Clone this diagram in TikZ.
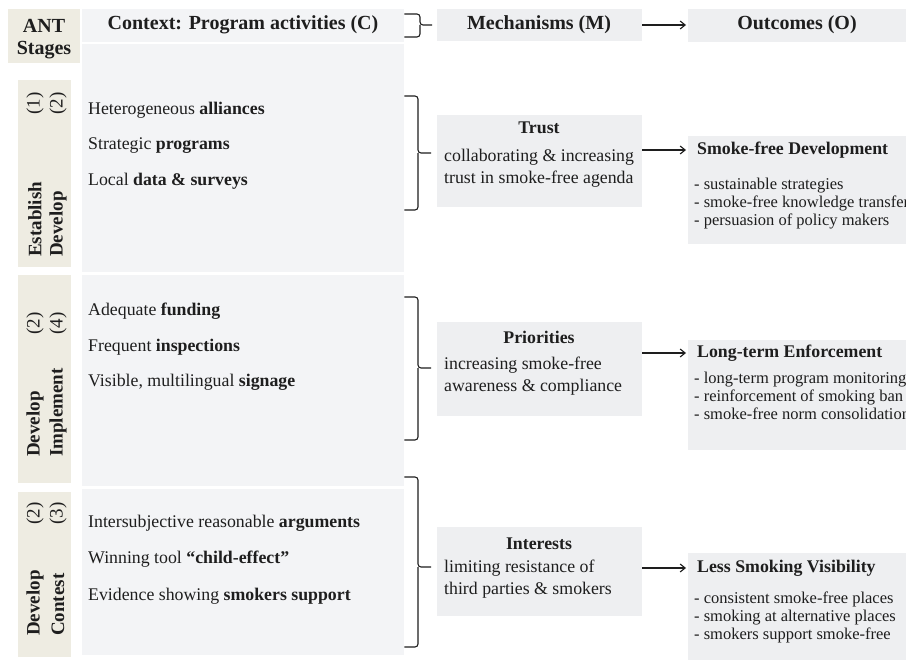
\documentclass[tikz,border=0pt]{standalone}
\usepackage{fontspec}
\setmainfont{Liberation Serif}
\usetikzlibrary{arrows.meta}
\definecolor{beige}{HTML}{EEECE2}
\definecolor{ctxfill}{HTML}{F3F4F6}
\definecolor{boxfill}{HTML}{EEEFF1}
\definecolor{ink}{HTML}{1E1E1E}
\begin{document}
\begin{tikzpicture}[x=1pt,y=-1pt,
  every node/.style={text=ink, inner sep=0pt},
  area/.style={draw=none, anchor=north west, minimum width=#1},
  stagebox/.style={area=53pt, fill=beige},
  ctxbox/.style={area=322pt, fill=ctxfill},
  mbox/.style={area=205pt, fill=boxfill},
  obox/.style={area=222pt, fill=boxfill},
  hdr/.style={font=\fontsize{20}{24}\selectfont\bfseries},
  body/.style={font=\fontsize{17.8}{21}\selectfont, anchor=west},
  mtext/.style={font=\fontsize{17.8}{22}\selectfont, align=left, anchor=west},
  mtitle/.style={font=\fontsize{17.8}{21}\selectfont\bfseries},
  otitle/.style={font=\fontsize{17.8}{21}\selectfont\bfseries, anchor=west},
  olist/.style={font=\fontsize{16.5}{17.8}\selectfont, align=left, anchor=north west},
  stg/.style={font=\fontsize{19}{22}\selectfont\bfseries, rotate=90, anchor=west},
  stgnum/.style={font=\fontsize{19}{22}\selectfont, rotate=90, anchor=east},
  brace/.style={draw=ink, line width=1.1pt, rounded corners=3pt},
  arr/.style={draw=ink, line width=1.1pt, -{Straight Barb[length=5pt,width=8pt]}}
]
\clip (0,0) rectangle (906,661);
\fill[white] (0,0) rectangle (906,661);

% ---------- header row ----------
\node[area=72pt, minimum height=54pt, fill=beige] (hant) at (8,9) {};
\node[hdr] (antA) at (44,26) {ANT};
\node[hdr] (antB) at (44,50) {Stages};

\node[ctxbox, minimum height=33pt] (hctxbox) at (82,9) {};
\node[hdr] (hctx) at (243,25) {Context: Program activities (C)};

\node[mbox, minimum height=32pt] (hmechbox) at (437,9) {};
\node[hdr] (hmech) at (539,25) {Mechanisms (M)};

\node[obox, minimum height=33pt] (houtbox) at (688,9) {};
\node[hdr] (hout) at (797,25) {Outcomes (O)};

\coordinate (hbm) at (420,25);
\draw[brace] (hctxbox.east |- 0,14) -| (hbm) -- (432,25);
\draw[brace] (hctxbox.east |- 0,37) -| (hbm);
\draw[arr] (hmechbox.east |- hmech) -- ([xshift=-2pt]houtbox.west |- hmech);

% ---------- context boxes ----------
\node[ctxbox, minimum height=228pt] (ctx1) at (82,44) {};
\node[ctxbox, minimum height=211pt] (ctx2) at (82,275) {};
\node[ctxbox, minimum height=166pt] (ctx3) at (82,489) {};

% ---------- stage boxes ----------
\node[stagebox, minimum height=187pt] (stg1) at (18,80) {};
\node[stagebox, minimum height=208pt] (stg2) at (18,275) {};
\node[stagebox, minimum height=165pt] (stg3) at (18,492) {};

\node[stg] (s1a) at (35,257) {Establish};
\node[stg] (s1b) at (58,257) {Develop};
\node[stgnum] (n1a) at (35,92) {(1)};
\node[stgnum] (n1b) at (58,92) {(2)};

\node[stg] (s2a) at (35,457) {Develop};
\node[stg] (s2b) at (58,457) {Implement};
\node[stgnum] (n2a) at (35,312) {(2)};
\node[stgnum] (n2b) at (58,312) {(4)};

\node[stg] (s3a) at (35,636) {Develop};
\node[stg] (s3b) at (58,636) {Contest};
\node[stgnum] (n3a) at (35,502) {(2)};
\node[stgnum] (n3b) at (58,502) {(3)};

% ---------- context items ----------
\node[body] (c11) at (88,110) {Heterogeneous \textbf{alliances}};
\node[body] (c12) at (88,146) {Strategic \textbf{programs}};
\node[body] (c13) at (88,181) {Local \textbf{data \& surveys}};

\node[body] (c21) at (88,311) {Adequate \textbf{funding}};
\node[body] (c22) at (88,347) {Frequent \textbf{inspections}};
\node[body] (c23) at (88,382) {Visible, multilingual \textbf{signage}};

\node[body] (c31) at (88,523) {Intersubjective reasonable \textbf{arguments}};
\node[body] (c32) at (88,559) {Winning tool \textbf{“child-effect”}};
\node[body] (c33) at (88,596) {Evidence showing \textbf{smokers support}};

% ---------- mechanism boxes ----------
\node[mbox, minimum height=92pt] (mb1) at (437,115) {};
\node[mtitle] (m1t) at (539,128) {Trust};
\node[mtext] (m1) at (444,168.5) {collaborating \& increasing\\trust in smoke-free agenda};

\node[mbox, minimum height=94pt] (mb2) at (437,322) {};
\node[mtitle] (m2t) at (539,337) {Priorities};
\node[mtext] (m2) at (444,376.5) {increasing smoke-free\\awareness \& compliance};

\node[mbox, minimum height=89pt] (mb3) at (437,527) {};
\node[mtitle] (m3t) at (539,544) {Interests};
\node[mtext] (m3) at (444,579) {limiting resistance of\\third parties \& smokers};

% ---------- braces ----------
\coordinate (b1m) at (418,153);
\draw[brace] (ctx1.east |- 0,96) -| (b1m) -- (431,153);
\draw[brace] (ctx1.east |- 0,210) -| (b1m);

\coordinate (b2m) at (418,368);
\draw[brace] (ctx2.east |- 0,297) -| (b2m) -- (431,368);
\draw[brace] (ctx2.east |- 0,440) -| (b2m);

\coordinate (b3m) at (418,567);
\draw[brace] (ctx3.east |- 0,477) -| (b3m) -- (431,567);
\draw[brace] (ctx3.east |- 0,647) -| (b3m);

% ---------- outcome boxes ----------
\node[obox, minimum height=108pt] (ob1) at (688,136) {};
\node[otitle] (o1t) at (697,150) {Smoke-free Development};
\node[olist] (o1) at (694,178) {- sustainable strategies\\- smoke-free knowledge transfer\\- persuasion of policy makers};

\node[obox, minimum height=110pt] (ob2) at (688,340) {};
\node[otitle] (o2t) at (697,353) {Long-term Enforcement};
\node[olist] (o2) at (694,372) {- long-term program monitoring\\- reinforcement of smoking ban\\- smoke-free norm consolidation};

\node[obox, minimum height=107pt] (ob3) at (688,553) {};
\node[otitle] (o3t) at (697,568) {Less Smoking Visibility};
\node[olist] (o3) at (694,592) {- consistent smoke-free places\\- smoking at alternative places\\- smokers support smoke-free};

% ---------- arrows ----------
\draw[arr] (mb1.east |- o1t.west) -- ([xshift=-11pt]o1t.west);
\draw[arr] (mb2.east |- o2t.west) -- ([xshift=-11pt]o2t.west);
\draw[arr] (mb3.east |- o3t.west) -- ([xshift=-11pt]o3t.west);
\end{tikzpicture}
\end{document}
